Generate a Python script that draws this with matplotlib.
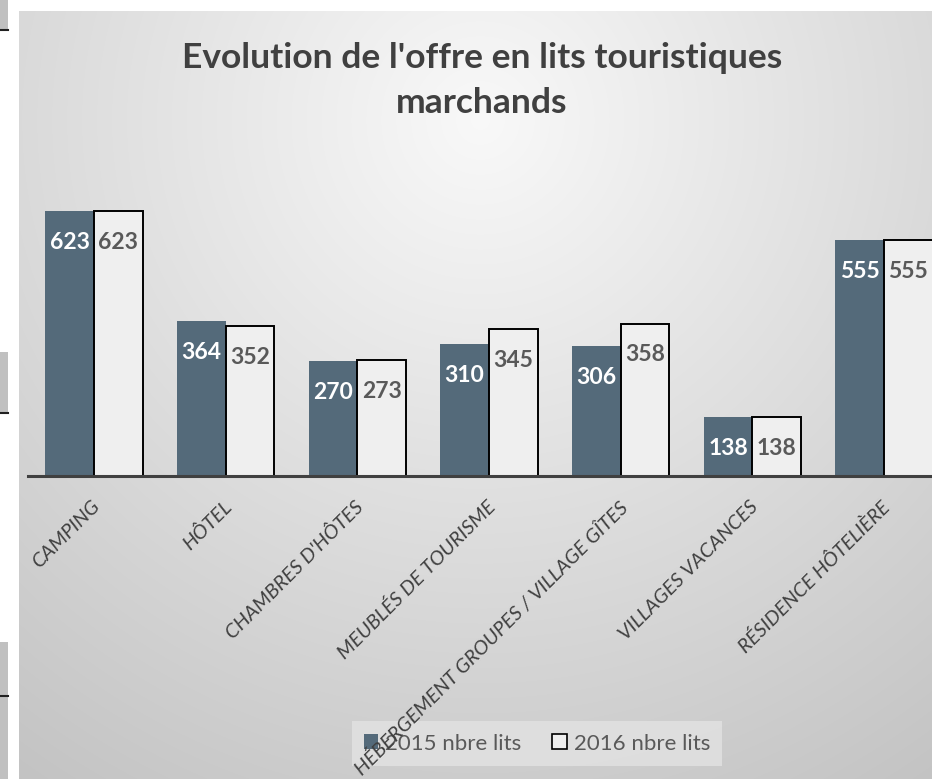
import numpy as np
import matplotlib
matplotlib.use('Agg')
import matplotlib.pyplot as plt
import matplotlib.transforms as mtransforms
from matplotlib.patches import Rectangle, Patch

categories = ['CAMPING', 'HÔTEL', "CHAMBRES D'HÔTES", 'MEUBLÉS DE TOURISME',
              'HÉBERGEMENT GROUPES / VILLAGE GÎTES', 'VILLAGES VACANCES',
              'RÉSIDENCE HÔTELIÈRE']
lits_2015 = [623, 364, 270, 310, 306, 138, 555]
lits_2016 = [623, 352, 273, 345, 358, 138, 555]
series_names = ['2015 nbre lits', '2016 nbre lits']
title_lines = ["Evolution de l'offre en lits touristiques", 'marchands']

W, H = 932, 779
col_2015 = '#546a7a'
col_2016 = '#efefef'
txt_dark = '#404040'
txt_gray = '#595959'
font = 'Lato'

plt.rcParams['font.family'] = [font, 'DejaVu Sans']


def fx(px):
    return px / W


def fy(py):
    return 1 - py / H


fig = plt.figure(figsize=(W / 100, H / 100), dpi=100)
fig.patch.set_facecolor('white')

# stray bits of the surrounding sheet on the left
for top, bottom, line in [(0, 30, 29.5), (352, 414, 413), (642, 779, 695.5)]:
    fig.add_artist(Rectangle((0, fy(bottom)), fx(8), (bottom - top) / H,
                             transform=fig.transFigure, facecolor='#c0c0c0',
                             edgecolor='none'))
    fig.add_artist(plt.Line2D([0, fx(8)], [fy(line), fy(line)],
                              transform=fig.transFigure, color='#202020', lw=1.5))

# chart area with radial grey gradient
bg = fig.add_axes([fx(19), 0, 1 - fx(19), 1 - 11 / H])
bg.set_axis_off()
yy, xx = np.mgrid[11:H, 19:W]
r = np.hypot(xx - 480, (yy - 120) * 1.0) / 782
shade = np.clip(0.975 - 0.205 * r, 0, 1)
bg.imshow(np.dstack([shade] * 3), aspect='auto', interpolation='bilinear')

# main axes, category spacing ~131.7 px, first centre at x=94
step = 131.67
left = 94 - step / 2
ax = fig.add_axes([fx(left), fy(476), (7 * step) / W, 300 / H])
ax.patch.set_alpha(0)
ymax = 300 / 0.4254
ax.set_xlim(-0.5, 6.5)
ax.set_ylim(0, ymax)

x = np.arange(len(categories))
w = 0.37
b1 = ax.bar(x - w / 2, lits_2015, w, color=col_2015, edgecolor='none', label=series_names[0])
b2 = ax.bar(x + w / 2, lits_2016, w, color=col_2016, edgecolor='black', lw=1.4,
            label=series_names[1])

for bars, vals, c in [(b1, lits_2015, 'white'), (b2, lits_2016, txt_gray)]:
    for rect, v in zip(bars, vals):
        ax.annotate(str(v), (rect.get_x() + rect.get_width() / 2, v),
                    xytext=(0, -22.5), textcoords='offset points',
                    ha='center', va='center', color=c, fontsize=16.5,
                    fontweight='bold')

for s in ['top', 'left', 'right']:
    ax.spines[s].set_visible(False)
ax.spines['bottom'].set_color(txt_dark)
ax.spines['bottom'].set_linewidth(2.2)
ax.set_yticks([])
ax.set_xticks(x)
ax.tick_params(axis='x', length=0, pad=12)
ax.set_xticklabels(categories, rotation=45, ha='right', va='top',
                   rotation_mode='anchor', fontstyle='italic', fontsize=14.5,
                   color=txt_dark)
shift = mtransforms.ScaledTranslation(-3 / 100, -5 / 100, fig.dpi_scale_trans)
for lbl in ax.get_xticklabels():
    lbl.set_transform(lbl.get_transform() + shift)

handles = [Patch(facecolor=col_2015, edgecolor='none'),
           Patch(facecolor=col_2016, edgecolor='black', lw=1.2)]
leg = ax.legend(handles, series_names, loc='center',
                bbox_to_anchor=(fx(537), fy(743.5)), bbox_transform=fig.transFigure,
                ncol=2, fontsize=16, frameon=True, fancybox=False,
                handlelength=0.65, handleheight=0.65, handletextpad=0.3,
                columnspacing=1.4, borderpad=0.55, borderaxespad=0,
                labelcolor=txt_gray)
leg.get_frame().set_facecolor('#e4e4e4')
leg.get_frame().set_alpha(0.75)
leg.get_frame().set_edgecolor('none')
leg.set_zorder(1)

for line, base in zip(title_lines, [68, 113]):
    fig.text(fx(482), fy(base), line, ha='center', va='baseline', fontsize=25.5,
             fontweight='bold', color=txt_dark)

fig.savefig('out.png', dpi=100)
